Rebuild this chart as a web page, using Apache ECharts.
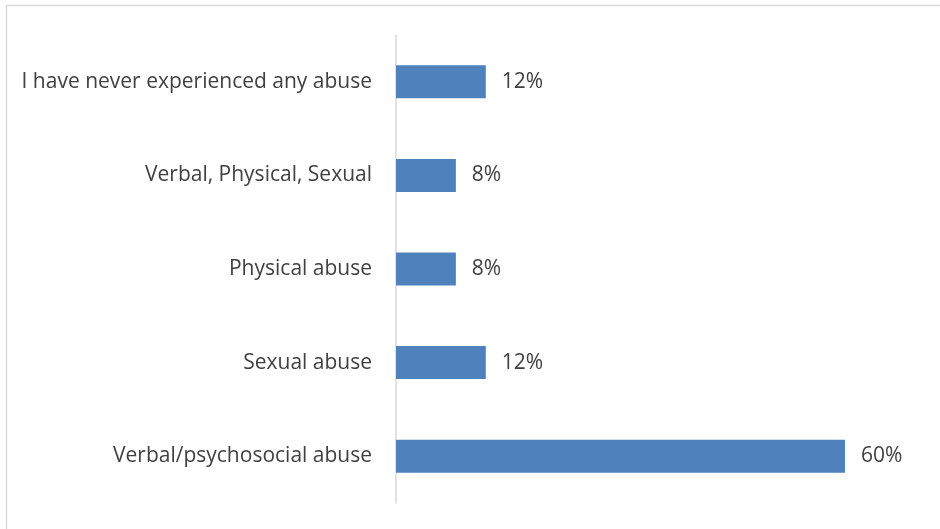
<!DOCTYPE html>
<html><head><meta charset="utf-8">
<script src="https://cdn.jsdelivr.net/npm/echarts@6/dist/echarts.min.js"></script>
<style>html,body{margin:0;padding:0;background:#fff}#c{width:940px;height:529px}</style>
</head><body><div id="c"></div>
<script>
var categories = ["Verbal/psychosocial abuse","Sexual abuse","Physical abuse","Verbal, Physical, Sexual","I have never experienced any abuse"];
var values = [60, 12, 8, 8, 12];
var chart = echarts.init(document.getElementById('c'));
chart.setOption({
  animation: false,
  graphic: [{type:'rect', shape:{x:6.5,y:5.5,width:960,height:560}, style:{fill:'none',stroke:'#d9d9d9',lineWidth:1.5}, silent:true}],
  grid: {left: 396, right: 95, top: 35, bottom: 26},
  xAxis: {type:'value', min:0, max:60, show:false},
  yAxis: {type:'category', data: categories,
    axisLine:{show:true, lineStyle:{color:'#d9d9d9', width:1.5}},
    axisTick:{show:false},
    axisLabel:{color:'#404040', fontSize:21, fontFamily:'Open Sans', margin:24}},
  series: [{type:'bar', data: values, barWidth: 33,
    itemStyle:{color:'#4f81bd'},
    label:{show:true, position:'right', distance:16, formatter:'{c}%', color:'#404040', fontSize:21, fontFamily:'Open Sans'}}]
});
</script></body></html>
